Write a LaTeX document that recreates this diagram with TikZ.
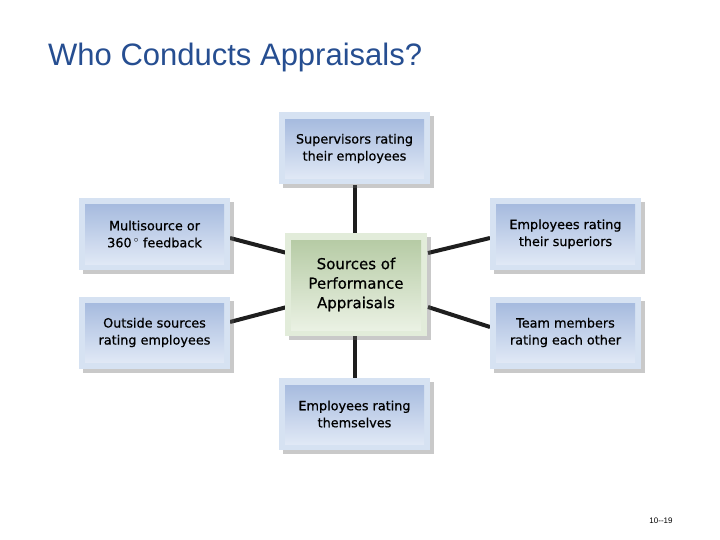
\documentclass[tikz,border=0pt]{standalone}
\usepackage{fontspec}
\setmainfont{DejaVu Sans}
\newfontfamily\boxfont{DejaVu Sans}[UprightFeatures={FakeBold=0.7}]
\newfontfamily\titlefont{Liberation Sans}
\usetikzlibrary{shadows}
\definecolor{titleblue}{RGB}{38,78,145}
\definecolor{frameblue}{RGB}{214,226,242}
\definecolor{topblue}{RGB}{160,182,220}
\definecolor{botblue}{RGB}{230,237,248}
\definecolor{framegreen}{RGB}{226,236,218}
\definecolor{topgreen}{RGB}{178,200,160}
\definecolor{botgreen}{RGB}{238,244,232}
\definecolor{linegray}{RGB}{30,30,30}
\tikzset{
  apbox/.style={minimum width=151pt, minimum height=72pt, inner sep=0pt,
    fill=frameblue, align=center, font=\boxfont\fontsize{12.8}{17}\selectfont,
    drop shadow={shadow xshift=4pt, shadow yshift=-4pt, opacity=0.35, fill=black!60},
    path picture={\shade[top color=topblue, bottom color=botblue]
      ([shift={(6pt,-7pt)}]path picture bounding box.north west) rectangle
      ([shift={(-6pt,6pt)}]path picture bounding box.south east);}},
  centerbox/.style={apbox, minimum width=142pt, minimum height=103pt,
    fill=framegreen, font=\boxfont\fontsize{15}{19.5}\selectfont,
    path picture={\shade[top color=topgreen, bottom color=botgreen]
      ([shift={(6pt,-7pt)}]path picture bounding box.north west) rectangle
      ([shift={(-6pt,6pt)}]path picture bounding box.south east);}},
  conn/.style={draw=linegray, line width=4pt}
}
\begin{document}
\begin{tikzpicture}[x=1pt,y=-1pt]
\useasboundingbox[fill=white] (0,0) rectangle (720,540);
\node[anchor=base west, font=\titlefont\fontsize{31}{36}\selectfont, text=titleblue, inner sep=0pt] (title) at (48,66) {Who Conducts Appraisals?};
\draw[conn] (355,185) -- (355,234);
\draw[conn] (355,335) -- (355,378);
\draw[conn] (230,238) -- (287,253);
\draw[conn] (230,322) -- (287,307);
\draw[conn] (428,253) -- (490,238);
\draw[conn] (428,307) -- (490,327);
\node[apbox] (top) at (354.5,148.5) {Supervisors rating\\their employees};
\node[apbox] (lt) at (154.5,234) {Multisource or\\360\,$^\circ$ feedback};
\node[apbox] (lb) at (154.5,332.5) {Outside sources\\rating employees};
\node[apbox] (rt) at (565.5,234) {Employees rating\\their superiors};
\node[apbox] (rb) at (565.5,332.5) {Team members\\rating each other};
\node[apbox] (bot) at (354.5,414) {Employees rating\\themselves};
\node[centerbox] (c) at (356,284.5) {Sources of\\Performance\\Appraisals};
\node[font=\titlefont\fontsize{8}{10}\selectfont] (pg) at (661,521) {10--19};
\end{tikzpicture}
\end{document}
